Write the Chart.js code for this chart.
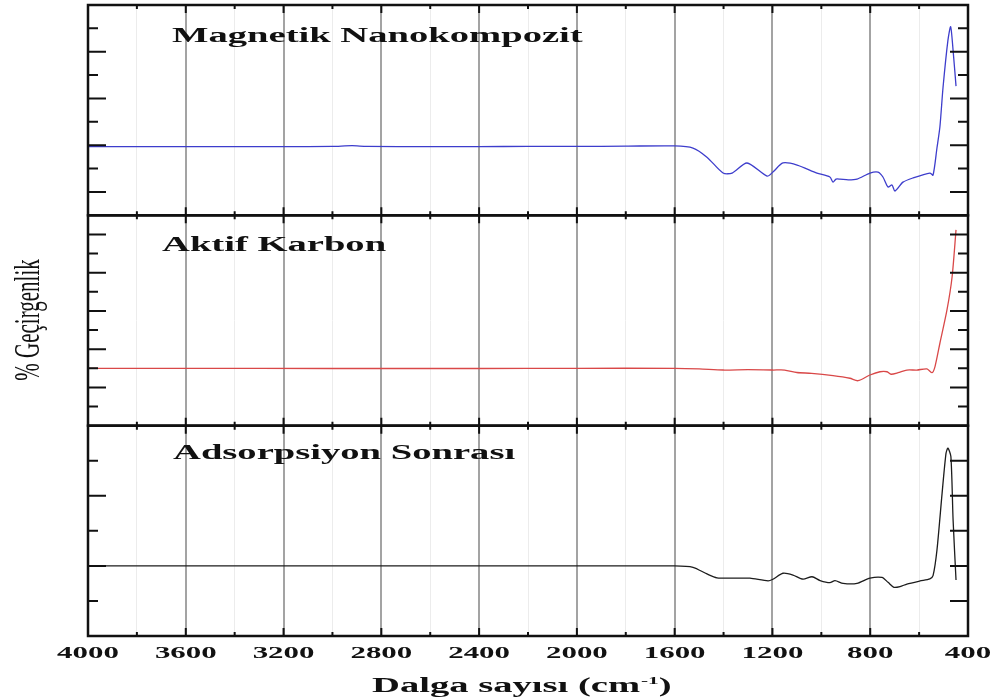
<!DOCTYPE html>
<html>
<head>
<meta charset="utf-8">
<title>FTIR spektrumları</title>
<script src="https://cdn.jsdelivr.net/npm/chart.js@4.4.1/dist/chart.umd.min.js"></script>
<style>
  html, body { margin: 0; padding: 0; background: #fff; }
  #wrap { width: 995px; height: 700px; position: relative; }
</style>
</head>
<body>
<div id="wrap"><canvas id="ftir-chart" width="995" height="700"></canvas></div>
<script>
// ---------------------------------------------- data --------------------------------------------------
var panelNames = ['Magnetik Nanokompozit', 'Aktif Karbon', 'Adsorpsiyon Sonrası'];
var xTicks = [4000, 3600, 3200, 2800, 2400, 2000, 1600, 1200, 800, 400];

// magnetic nanocomposite
var magWave = [4000, 3800, 3600, 3200, 3000, 2920, 2860, 2600, 2400, 2200, 2000, 1800, 1600, 1525, 1468, 1402, 1365,
	1304, 1222, 1198, 1157, 1099, 1018, 965, 952, 940, 924, 890, 854, 801, 768, 748, 727, 711, 699, 666, 625, 556, 543,
	527, 515, 502, 482, 471, 461, 449];
var magT = [29.4, 29.4, 29.4, 29.4, 29.5, 29.8, 29.5, 29.4, 29.4, 29.5, 29.5, 29.6, 29.7, 28.8, 24.9, 18.1, 18.1,
	22.4, 16.8, 18.5, 22.4, 21.5, 18.1, 16.4, 14.2, 15.5, 15.5, 15.2, 15.5, 18.1, 18.5, 16.4, 12.1, 13.0, 10.4, 14.2, 16.0, 18.1, 17.2,
	28.8, 37.8, 54.9, 75.0, 80.7, 70.6, 55.3];

// activated carbon
var carbonWave = [4000, 3600, 3000, 2400, 2000, 1600, 1500, 1402, 1300, 1198, 1150, 1100, 1040, 952, 883, 850, 801,
	760, 731, 715, 686, 650, 609, 568, 547, 535, 515, 486, 465, 449];
var carbonT = [30.0, 30.0, 29.9, 29.9, 30.0, 30.0, 29.7, 29.1, 29.3, 29.1, 29.1, 27.8, 27.4, 26.2, 24.8, 23.5, 26.5,
	28.2, 28.2, 26.9, 27.7, 29.1, 29.1, 29.7, 27.7, 30.9, 43.1, 60.5, 77.9, 102.4];

// after adsorption
var afterWave = [4000, 3600, 3000, 2400, 2000, 1600, 1525, 1468, 1427, 1350, 1292, 1218, 1198, 1157, 1116, 1075, 1038,
	1005, 965, 944, 911, 854, 801, 752, 727, 703, 678, 650, 596, 556, 543, 527, 506, 490, 482, 470, 461, 449];
var afterT = [20.0, 20.0, 20.0, 20.0, 20.0, 20.0, 19.6, 17.7, 16.6, 16.5, 16.5, 15.7, 16.2, 17.9, 17.4, 16.2, 16.9,
	15.8, 15.2, 15.8, 15.0, 15.0, 16.5, 16.7, 15.3, 13.9, 14.1, 14.8, 15.7, 16.3, 17.2, 24.5, 40.7, 52.1, 53.6, 51.2, 33.1, 16.0];

function pairs(w, t) {
	return w.map(function(v, i) { return { x: v, y: t[i] }; });
}

// ---------------------------------------------- helpers -----------------------------------------------
var serif = '"Liberation Serif", "Times New Roman", serif';
var stretch = 1.93;

// bold serif drawn wide, as in the printed figure
function wideText(ctx, text, x, y, size, align) {
	ctx.save();
	ctx.font = 'bold ' + size + 'px ' + serif;
	var w = ctx.measureText(text).width * stretch;
	var left = align === 'center' ? x - w / 2 : x;
	ctx.translate(left, y);
	ctx.scale(stretch, 1);
	ctx.textAlign = 'left';
	ctx.fillText(text, 0, 0);
	ctx.restore();
	return w;
}

var panelAxes = ['yTop', 'yMid', 'yBot'];
var titleOffsets = [[84, 37], [74, 36], [85, 33]];
// which inner y ticks are long, per panel: [left, right]
var longTick = [
	[function(v) { return v % 20 === 10; }, function(v) { return v % 20 === 10; }],
	[function(v) { return v % 20 === 0; }, function(v) { return v % 20 === 0; }],
	[function(v) { return v % 20 === 0; }, function() { return true; }]
];

var panelFrame = {
	id: 'panelFrame',
	afterDraw: function(chart) {
		var ctx = chart.ctx, xs = chart.scales.x, area = chart.chartArea;
		ctx.save();
		ctx.strokeStyle = '#111';
		ctx.fillStyle = '#111';

		panelAxes.forEach(function(id, i) {
			var s = chart.scales[id];
			var top = s.top, bottom = s.bottom;

			ctx.lineWidth = 2;
			xs.ticks.forEach(function(t) {
				if (t.value <= xs.min || t.value >= xs.max) return;
				var px = xs.getPixelForValue(t.value);
				var len = t.value % 400 === 0 ? 8 : 4;
				ctx.beginPath();
				ctx.moveTo(px, top); ctx.lineTo(px, top + len);
				ctx.moveTo(px, bottom); ctx.lineTo(px, bottom - len);
				ctx.stroke();
			});

			s.ticks.forEach(function(t) {
				if (t.value <= s.min || t.value >= s.max) return;
				var py = s.getPixelForValue(t.value);
				var l = longTick[i][0](t.value) ? 18 : 10;
				var r = longTick[i][1](t.value) ? 18 : 10;
				ctx.beginPath();
				ctx.moveTo(area.left, py); ctx.lineTo(area.left + l, py);
				ctx.moveTo(area.right, py); ctx.lineTo(area.right - r, py);
				ctx.stroke();
			});

			ctx.lineWidth = 2.5;
			ctx.strokeRect(area.left, top, area.right - area.left, bottom - top);

			wideText(ctx, panelNames[i], area.left + titleOffsets[i][0], top + titleOffsets[i][1], 20, 'left');
		});

		// x tick labels
		xTicks.forEach(function(v) {
			wideText(ctx, String(v), xs.getPixelForValue(v), area.bottom + 22, 16, 'center');
		});

		// x axis title with superscript
		var tx = 372, ty = 692;
		tx += wideText(ctx, 'Dalga sayısı (cm', tx, ty, 20, 'left');
		tx += wideText(ctx, '-1', tx + 1, ty - 8, 11, 'left') + 1;
		wideText(ctx, ')', tx, ty, 20, 'left');

		// y axis title, narrow and rotated
		ctx.save();
		ctx.font = '35px ' + serif;
		ctx.translate(39, 320);
		ctx.rotate(-Math.PI / 2);
		ctx.scale(0.6, 1);
		ctx.textAlign = 'center';
		ctx.fillText('% Geçirgenlik', 0, 0);
		ctx.restore();

		ctx.restore();
	}
};

function panelAxis(max) {
	return {
		type: 'linear',
		position: 'left',
		stack: 'panels',
		stackWeight: 1,
		min: 0,
		max: max,
		ticks: { display: false, stepSize: 10 },
		grid: { display: false, drawTicks: false },
		border: { display: false },
		afterFit: function(scale) { scale.width = 0; }
	};
}

// ---------------------------------------------- chart -------------------------------------------------
var ctx = document.getElementById('ftir-chart').getContext('2d');
var ftirChart = new Chart(ctx, {
	type: 'line',
	data: {
		datasets: [{
			label: panelNames[0],
			data: pairs(magWave, magT),
			yAxisID: 'yTop',
			borderColor: '#3d3dcc',
			borderWidth: 1.3
		}, {
			label: panelNames[1],
			data: pairs(carbonWave, carbonT),
			yAxisID: 'yMid',
			borderColor: '#d94848',
			borderWidth: 1.3
		}, {
			label: panelNames[2],
			data: pairs(afterWave, afterT),
			yAxisID: 'yBot',
			borderColor: '#1c1c1c',
			borderWidth: 1.3
		}]
	},
	options: {
		responsive: false,
		animation: false,
		devicePixelRatio: 1,
		layout: { padding: { left: 88, right: 27, top: 5, bottom: 0 } },
		elements: {
			point: { radius: 0 },
			line: { tension: 0.25, fill: false }
		},
		plugins: {
			legend: { display: false },
			tooltip: { enabled: false }
		},
		scales: {
			x: {
				type: 'linear',
				reverse: true,
				min: 400,
				max: 4000,
				ticks: { display: false, stepSize: 200 },
				grid: {
					drawTicks: false,
					color: function(c) { return c.tick && c.tick.value % 400 === 0 ? '#a3a3a3' : '#ececec'; },
					lineWidth: function(c) { return c.tick && c.tick.value % 400 === 0 ? 2 : 1; }
				},
				border: { display: false },
				afterFit: function(scale) { scale.height = 64; }
			},
			// stacked panels are laid out from the bottom up
			yBot: panelAxis(60),
			yMid: panelAxis(110),
			yTop: panelAxis(90)
		}
	},
	plugins: [panelFrame]
});
</script>
</body>
</html>
